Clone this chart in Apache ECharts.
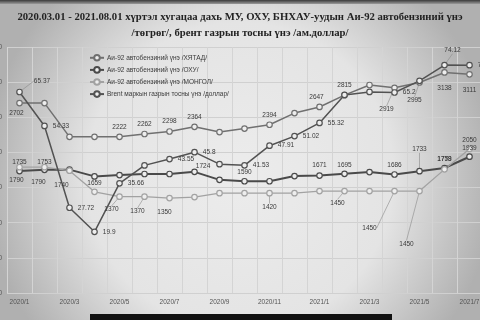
<!DOCTYPE html>
<html><head><meta charset="utf-8">
<script src="https://cdn.jsdelivr.net/npm/echarts/dist/echarts.min.js"></script>
<style>html,body{margin:0;padding:0;background:#e6e6e6}#c{width:480px;height:320px}</style>
</head><body><div id="c"></div>
<script>
// ---- data ----
const months = ['2020/1','2020/2','2020/3','2020/4','2020/5','2020/6','2020/7','2020/8','2020/9','2020/10','2020/11','2020/12','2021/1','2021/2','2021/3','2021/4','2021/5','2021/6','2021/7'];
const seriesNames = ['Аи-92 автобензиний үнэ /ХЯТАД/','Аи-92 автобензиний үнэ /ОХУ/','Аи-92 автобензиний үнэ /МОНГОЛ/','Brent маркын газрын тосны үнэ /доллар/'];
const china    = [2702, 2702, 2222, 2222, 2222, 2262, 2298, 2364, 2290, 2340, 2394, 2560, 2647, 2815, 2959, 2919, 2995, 3138, 3111];
const russia   = [1735, 1753, 1755, 1659, 1678, 1693, 1693, 1724, 1610, 1590, 1590, 1664, 1671, 1695, 1721, 1686, 1733, 1778, 1939];
const mongolia = [1790, 1790, 1740, 1440, 1370, 1370, 1350, 1365, 1420, 1420, 1420, 1420, 1450, 1450, 1450, 1450, 1450, 1759, 2050];
const brent    = [65.37, 54.33, 27.72, 19.9, 35.66, 41.5, 43.55, 45.8, 41.9, 41.53, 47.91, 51.02, 55.32, 64.4, 65.4, 65.2, 69.0, 74.12, 74.1];
const leftTicks = {min: 0, max: 3500, interval: 500};
const rightTicks = {min: 0, max: 80};

// ---- label placement (style only): index -> [position, dx, dy, leader] ----
const labelSpecs = [
  {0:['bottom',-3,-2,0],4:['top',0,2,0],5:['top',0,2,0],6:['top',0,2,0],7:['top',0,2,0],10:['top',0,2,0],12:['top',-3,2,0],13:['top',0,2,0],15:['bottom',-8,10,1],16:['bottom',-5,6,1],17:['bottom',0,4,0],18:['bottom',0,4,0]},
  {0:['top',0,3,0],1:['top',0,4,0],3:['bottom',0,-5,0],7:['right',-7,-6,0],9:['top',0,3,0],12:['top',0,2,0],13:['top',0,3,0],15:['top',0,3,0],16:['top',0,-10,1],17:['top',0,3,0],18:['top',0,3,0]},
  {0:['bottom',-3,1,0],1:['bottom',-6,3,0],2:['bottom',-8,3,0],4:['bottom',-8,1,1],5:['bottom',-7,3,1],6:['bottom',-5,2,0],10:['bottom',0,2,1],13:['bottom',-7,0,1],15:['bottom',-25,25,1],16:['bottom',-13,41,1],17:['top',0,2,0],18:['top',0,3,0]},
  {0:['right',6,-11,1],1:['right',0,0,0],2:['right',0,0,0],3:['right',0,0,0],4:['right',0,0,0],6:['right',0,0,0],7:['right',0,0,0],9:['right',0,0,0],10:['right',0,0,0],11:['right',0,0,0],12:['right',0,0,0],15:['right',0,0,0],17:['top',8,-3,1],18:['right',0,0,0]}
];
const lineColors = ['#707070','#4a4a4a','#a2a2a2','#525252'];
const lineWidths = [1.5, 2, 1.3, 1.5];
const FONT = '"Liberation Sans", Arial, sans-serif';

function build(values, spec){
  return values.map((v,i)=>{
    const s = spec[i];
    if(!s) return v;
    return {value:v, label:{show:true, position:s[0]}, labelLine:{show:!!s[3]}};
  });
}
const valueSets = [china, russia, mongolia, brent];
const series = valueSets.map((vals, si)=>({
  name: seriesNames[si],
  type: 'line',
  yAxisIndex: si === 3 ? 1 : 0,
  data: build(vals, labelSpecs[si]),
  symbol: 'circle',
  symbolSize: 5.5,
  itemStyle: {color:'#eeeeee', borderColor: lineColors[si], borderWidth: 1.2},
  lineStyle: {color: lineColors[si], width: lineWidths[si]},
  emphasis: {disabled: true},
  label: {show:false, fontSize:6.5, color:'#3a3a3a', fontFamily: FONT, distance:5},
  labelLine: {show:false, lineStyle:{color:'#8a8a8a', width:0.6}},
  labelLayout: function(p){
    const s = labelSpecs[si][p.dataIndex];
    return s ? {dx:s[1], dy:s[2]} : {};
  },
  z: 3
}));

const chart = echarts.init(document.getElementById('c'), null, {renderer:'canvas'});
chart.setOption({
  animation: false,
  backgroundColor: {type:'radial', x:0.5, y:0.55, r:0.8, colorStops:[{offset:0,color:'#ececec'},{offset:0.6,color:'#e4e4e4'},{offset:1,color:'#b0b0b0'}]},
  title: {
    text: '2020.03.01 - 2021.08.01 хүртэл хугацаа дахь МУ, ОХУ, БНХАУ-уудын Аи-92 автобензиний үнэ\n/төгрөг/, брент газрын тосны үнэ /ам.доллар/',
    left: 'center', top: 9, padding: [0, 0, 0, 36],
    textStyle: {fontFamily:'"Liberation Serif", "DejaVu Serif", serif', fontWeight:'bold', fontSize:10.7, color:'#222', lineHeight:16}
  },
  legend: {
    orient: 'vertical', left: 89, top: 54, itemGap: 4.5, itemWidth: 14, itemHeight: 7, padding: 0,
    textStyle: {fontSize: 6.5, color:'#3a3a3a', fontFamily: FONT, padding:[0,0,0,-2]},
    data: seriesNames
  },
  grid: {left: 7, top: 47, width: 475, bottom: 27, containLabel: false, outerBoundsMode: 'none'},
  xAxis: {
    type: 'category', data: months, boundaryGap: true,
    axisLine: {show:false}, axisTick: {show:false},
    axisLabel: {interval: 1, fontSize: 6.5, color:'#555', margin: 6, fontFamily: FONT},
    splitLine: {show:true, interval: 0, lineStyle:{color:'#d4d4d4', width:1}}
  },
  yAxis: [
    {type:'value', min:leftTicks.min, max:leftTicks.max, interval:leftTicks.interval,
     axisLine:{show:false}, axisTick:{show:false},
     axisLabel:{fontSize:6.5, color:'#555', margin:5, fontFamily: FONT, formatter: v => String(v)},
     splitLine:{lineStyle:{color:'#d0d0d0', width:1}}},
    {type:'value', min:rightTicks.min, max:rightTicks.max, show:false, splitLine:{show:false}}
  ],
  graphic: [
    {type:'rect', left:0, top:0, shape:{width:480, height:4}, style:{fill:{type:'linear',x:0,y:0,x2:0,y2:1,colorStops:[{offset:0,color:'#3a3a3a'},{offset:1,color:'#9a9a9a'}]}}, silent:true},
    {type:'rect', left:90, top:314, shape:{width:302, height:6}, style:{fill:'#111'}, silent:true}
  ],
  series: series
});
</script></body></html>
